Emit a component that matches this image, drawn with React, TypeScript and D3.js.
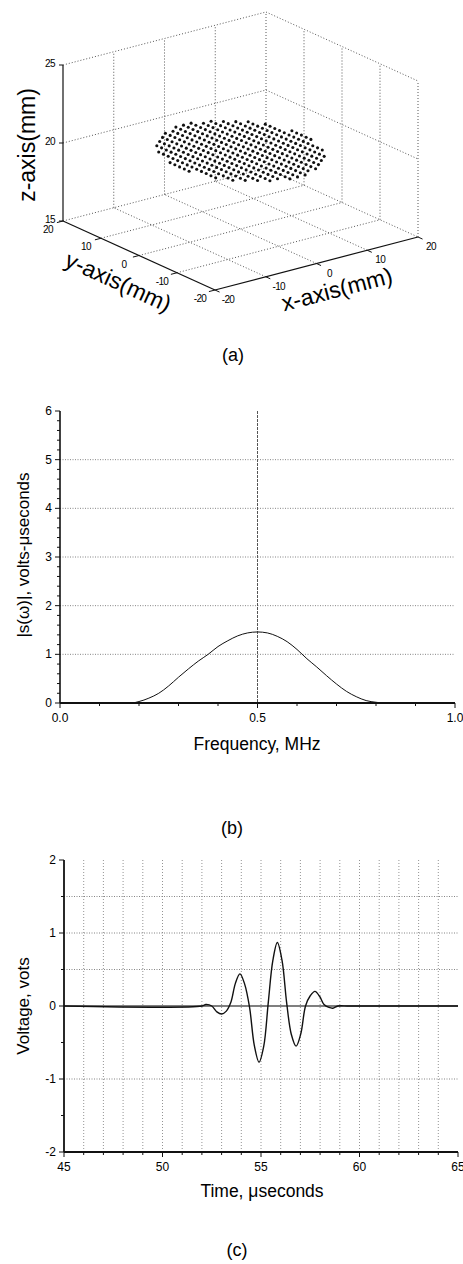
import React from "react";
import * as d3 from "d3";

// ---------- Panel (a): 3D scatter of array elements ----------
const axisTicks3D = [-20, -10, 0, 10, 20];
const zTicks3D = [15, 20, 25];
const elemX = [-12, -10.5, -9, -7.5, -6, -4.5, -3, -1.5, 0, 1.5, 3, 4.5, 6, 7.5, 9, 10.5, 12];
const elemY = [-15, -13.75, -12.5, -11.25, -10, -8.75, -7.5, -6.25, -5, -3.75, -2.5, -1.25, 0,
  1.25, 2.5, 3.75, 5, 6.25, 7.5, 8.75, 10, 11.25, 12.5, 13.75, 15];
const discRadiusX = 12.3;
const discRadiusY = 15.2;
const discZ = 20;

// ---------- Panel (b): spectrum ----------
const freqMHz = [0, 0.18, 0.2, 0.225, 0.25, 0.275, 0.3, 0.325, 0.35, 0.375, 0.4, 0.425, 0.45, 0.475, 0.5,
  0.525, 0.55, 0.575, 0.6, 0.625, 0.65, 0.675, 0.7, 0.725, 0.75, 0.775, 0.8, 0.82, 1.0];
const spectrum = [0, 0, 0.03, 0.1, 0.2, 0.35, 0.53, 0.7, 0.86, 1.0, 1.16, 1.28, 1.38, 1.44, 1.46,
  1.44, 1.37, 1.26, 1.1, 0.91, 0.74, 0.56, 0.39, 0.24, 0.13, 0.05, 0.015, 0, 0];
const bYTicks = [0, 1, 2, 3, 4, 5, 6];
const bXTickLabels = ["0.0", "0.5", "1.0"];

// ---------- Panel (c): waveform ----------
const timeUs = [45, 52.0, 52.2, 52.5, 52.76, 53.0, 53.24, 53.47, 53.7, 53.93, 54.17, 54.42, 54.66, 54.9,
  55.14, 55.37, 55.6, 55.83, 56.07, 56.3, 56.54, 56.78, 57.02, 57.26, 57.5, 57.74, 57.98, 58.2, 58.45,
  58.65, 58.9, 59.5, 65];
const voltage = [0, 0, 0.02, 0, -0.08, -0.11, -0.07, 0.05, 0.31, 0.44, 0.3, -0.02, -0.54, -0.77,
  -0.55, 0.05, 0.62, 0.87, 0.62, 0.05, -0.39, -0.55, -0.38, 0.0, 0.14, 0.2, 0.13, 0.02, -0.02,
  -0.03, 0, 0, 0];
const cYTicks = [-2, -1, 0, 1, 2];
const cXTicks = [45, 50, 55, 60, 65];
const cGridY = [1.5, 1, 0.5, -1];

const FONT = "'Liberation Sans', Arial, Helvetica, sans-serif";

export default function App() {
  // ----- 3D projection built from linear scales -----
  const pxX = d3.scaleLinear().domain([-20, 20]).range([0, 203]);
  const pyX = d3.scaleLinear().domain([-20, 20]).range([0, -53]);
  const pxY = d3.scaleLinear().domain([-20, 20]).range([0, -152]);
  const pyY = d3.scaleLinear().domain([-20, 20]).range([0, -69]);
  const pZ = d3.scaleLinear().domain([15, 25]).range([0, -156]);
  const O = [215, 290];
  const proj = (x: number, y: number, z: number): [number, number] => [
    O[0] + pxX(x) + pxY(y),
    O[1] + pyX(x) + pyY(y) + pZ(z),
  ];
  const seg = (a: [number, number], b: [number, number]) => `M${a[0]},${a[1]}L${b[0]},${b[1]}`;

  const dotted: string[] = [];
  dotted.push(seg(proj(-20, 20, 25), proj(20, 20, 25)));
  dotted.push(seg(proj(20, 20, 25), proj(20, -20, 25)));
  dotted.push(seg(proj(-20, 20, 15), proj(20, 20, 15)));
  dotted.push(seg(proj(20, 20, 15), proj(20, -20, 15)));
  dotted.push(seg(proj(20, 20, 15), proj(20, 20, 25)));
  dotted.push(seg(proj(20, -20, 15), proj(20, -20, 25)));
  axisTicks3D.slice(1, 4).forEach((t) => {
    dotted.push(seg(proj(t, 20, 15), proj(t, 20, 25)));
    dotted.push(seg(proj(20, t, 15), proj(20, t, 25)));
    dotted.push(seg(proj(t, -20, 15), proj(t, 20, 15)));
    dotted.push(seg(proj(-20, t, 15), proj(20, t, 15)));
  });
  dotted.push(seg(proj(-20, 20, 20), proj(20, 20, 20)));
  dotted.push(seg(proj(20, 20, 20), proj(20, -20, 20)));

  const dots: [number, number][] = [];
  elemX.forEach((x) =>
    elemY.forEach((y) => {
      const e = (x / discRadiusX) ** 2 + (y / discRadiusY) ** 2;
      if (e <= 1) dots.push(proj(x, y, discZ));
    })
  );

  // ----- Panel (b) -----
  const bx = d3.scaleLinear().domain([0, 1]).range([60, 455]);
  const by = d3.scaleLinear().domain([0, 6]).range([703, 411]);
  const bLine = d3
    .line<number>()
    .x((_, i) => bx(freqMHz[i]))
    .y((d) => by(d))
    .curve(d3.curveMonotoneX)(spectrum) as string;
  const bMinorY = d3.range(0, 6.001, 0.2);
  const bMinorX = d3.range(0, 1.001, 0.1);

  // ----- Panel (c) -----
  const cx = d3.scaleLinear().domain([45, 65]).range([64, 458]);
  const cy = d3.scaleLinear().domain([-2, 2]).range([1152, 860]);
  const cLine = d3
    .line<number>()
    .x((_, i) => cx(timeUs[i]))
    .y((d) => cy(d))
    .curve(d3.curveCatmullRom.alpha(0.5))(voltage) as string;
  const cMinorX = d3.range(45, 65.001, 1);
  const cMinorY = d3.range(-2, 2.001, 0.5);

  return (
    <svg
      width={463}
      height={1264}
      style={{ position: "absolute", left: 0, top: 0, display: "block", background: "#fff" }}
      fontFamily={FONT}
    >
      {/* ================= Panel (a) ================= */}
      <g>
        {dotted.map((d, i) => (
          <path key={i} d={d} stroke="#444" strokeWidth={0.9} strokeDasharray="1 2" fill="none" />
        ))}
        <path d={seg(proj(-20, 20, 15), proj(-20, 20, 25))} stroke="#111" strokeWidth={1.2} />
        <path d={seg(proj(-20, 20, 15), proj(-20, -20, 15))} stroke="#111" strokeWidth={1.2} />
        <path d={seg(proj(-20, -20, 15), proj(20, -20, 15))} stroke="#111" strokeWidth={1.2} />
        {zTicks3D.map((z) => {
          const p = proj(-20, 20, z);
          return (
            <g key={"z" + z}>
              <path d={`M${p[0]},${p[1]}L${p[0] - 4},${p[1]}`} stroke="#111" />
              <text x={p[0] - 13} y={p[1] + 1.5} fontSize={10} textAnchor="middle" letterSpacing={-0.6}>
                {z}
              </text>
            </g>
          );
        })}
        {axisTicks3D.map((t) => {
          const p = proj(-20, t, 15);
          const q = proj(-21.2, t, 15);
          return (
            <g key={"y" + t}>
              <path d={seg(p, q)} stroke="#111" />
              <text x={p[0] - 15} y={p[1] + 12} fontSize={10} textAnchor="middle" letterSpacing={-0.6}>
                {t}
              </text>
            </g>
          );
        })}
        {axisTicks3D.map((t) => {
          const p = proj(t, -20, 15);
          const q = proj(t, -21.2, 15);
          return (
            <g key={"x" + t}>
              <path d={seg(p, q)} stroke="#111" />
              <text x={p[0] + 13} y={p[1] + 13} fontSize={10} textAnchor="middle" letterSpacing={-0.6}>
                {t}
              </text>
            </g>
          );
        })}
        {dots.map((p, i) => (
          <circle key={i} cx={p[0]} cy={p[1]} r={1.55} fill="#111" />
        ))}
        <text transform={`translate(35,145) rotate(-90)`} fontSize={23} textAnchor="middle">
          z-axis(mm)
        </text>
        <text transform={`translate(115,289) rotate(24.4)`} fontSize={23} textAnchor="middle">
          y-axis(mm)
        </text>
        <text transform={`translate(339,297) rotate(-14.6)`} fontSize={23} textAnchor="middle">
          x-axis(mm)
        </text>
        <text x={233} y={361} fontSize={18} textAnchor="middle">
          (a)
        </text>
      </g>

      {/* ================= Panel (b) ================= */}
      <g>
        {bYTicks.slice(1, 6).map((v) => (
          <line key={v} x1={bx(0)} x2={bx(1)} y1={by(v)} y2={by(v)} stroke="#777" strokeWidth={0.9} strokeDasharray="1 1.5" />
        ))}
        <line x1={bx(0.5)} x2={bx(0.5)} y1={by(6)} y2={by(0)} stroke="#555" strokeWidth={1} strokeDasharray="3 1" />
        <path d={bLine} fill="none" stroke="#111" strokeWidth={1} />
        <line x1={bx(0)} x2={bx(0)} y1={by(6)} y2={by(0)} stroke="#111" strokeWidth={1.6} />
        <line x1={bx(0)} x2={bx(1)} y1={by(0)} y2={by(0)} stroke="#111" strokeWidth={1.8} />
        {bMinorY.map((v, i) => (
          <line key={"my" + i} x1={bx(0)} x2={bx(0) - (i % 5 === 0 ? 5 : 3)} y1={by(v)} y2={by(v)} stroke="#111" strokeWidth={1} />
        ))}
        {bMinorX.map((v, i) => (
          <line key={"mx" + i} y1={by(0)} y2={by(0) + (i % 5 === 0 ? 5 : 3)} x1={bx(v)} x2={bx(v)} stroke="#111" strokeWidth={1} />
        ))}
        {bYTicks.map((v) => (
          <text key={v} x={bx(0) - 8} y={by(v) + 4} fontSize={12} textAnchor="end">
            {v}
          </text>
        ))}
        {bXTickLabels.map((s) => (
          <text key={s} x={bx(+s)} y={by(0) + 19} fontSize={12} textAnchor="middle">
            {s}
          </text>
        ))}
        <text x={257} y={750} fontSize={17.5} textAnchor="middle">
          Frequency, MHz
        </text>
        <text transform={`translate(29,555) rotate(-90)`} fontSize={17} textAnchor="middle">
          |s(ω)|, volts-μseconds
        </text>
        <text x={232} y={834} fontSize={18} textAnchor="middle">
          (b)
        </text>
      </g>

      {/* ================= Panel (c) ================= */}
      <g>
        {cMinorX.slice(1, 20).map((t) => (
          <line key={"gx" + t} x1={cx(t)} x2={cx(t)} y1={cy(2)} y2={cy(-2)} stroke="#888" strokeWidth={0.9} strokeDasharray="1 2" />
        ))}
        {cGridY.map((v) => (
          <line key={"gy" + v} x1={cx(45)} x2={cx(65)} y1={cy(v)} y2={cy(v)} stroke="#777" strokeWidth={0.9} strokeDasharray="1 1.5" />
        ))}
        <line x1={cx(45)} x2={cx(65)} y1={cy(0)} y2={cy(0)} stroke="#555" strokeWidth={1.3} />
        <path d={cLine} fill="none" stroke="#111" strokeWidth={1.4} />
        <line x1={cx(45)} x2={cx(45)} y1={cy(2)} y2={cy(-2)} stroke="#111" strokeWidth={1.8} />
        <line x1={cx(45)} x2={cx(65)} y1={cy(-2)} y2={cy(-2)} stroke="#111" strokeWidth={2} />
        {cMinorY.map((v, i) => (
          <line key={"my" + i} x1={cx(45)} x2={cx(45) - (i % 2 === 0 ? 5 : 3)} y1={cy(v)} y2={cy(v)} stroke="#111" strokeWidth={1} />
        ))}
        {cMinorX.map((t, i) => (
          <line key={"mx" + i} x1={cx(t)} x2={cx(t)} y1={cy(-2)} y2={cy(-2) + (i % 5 === 0 ? 5 : 3)} stroke="#111" strokeWidth={1} />
        ))}
        {cYTicks.map((v) => (
          <text key={v} x={cx(45) - 8} y={cy(v) + 4} fontSize={12} textAnchor="end">
            {v}
          </text>
        ))}
        {cXTicks.map((t) => (
          <text key={t} x={cx(t)} y={cy(-2) + 19} fontSize={12} textAnchor="middle">
            {t}
          </text>
        ))}
        <text x={262} y={1197} fontSize={17.5} textAnchor="middle">
          Time, μseconds
        </text>
        <text transform={`translate(29,1006) rotate(-90)`} fontSize={17} textAnchor="middle">
          Voltage, vots
        </text>
        <text x={237} y={1256} fontSize={18} textAnchor="middle">
          (c)
        </text>
      </g>
    </svg>
  );
}
